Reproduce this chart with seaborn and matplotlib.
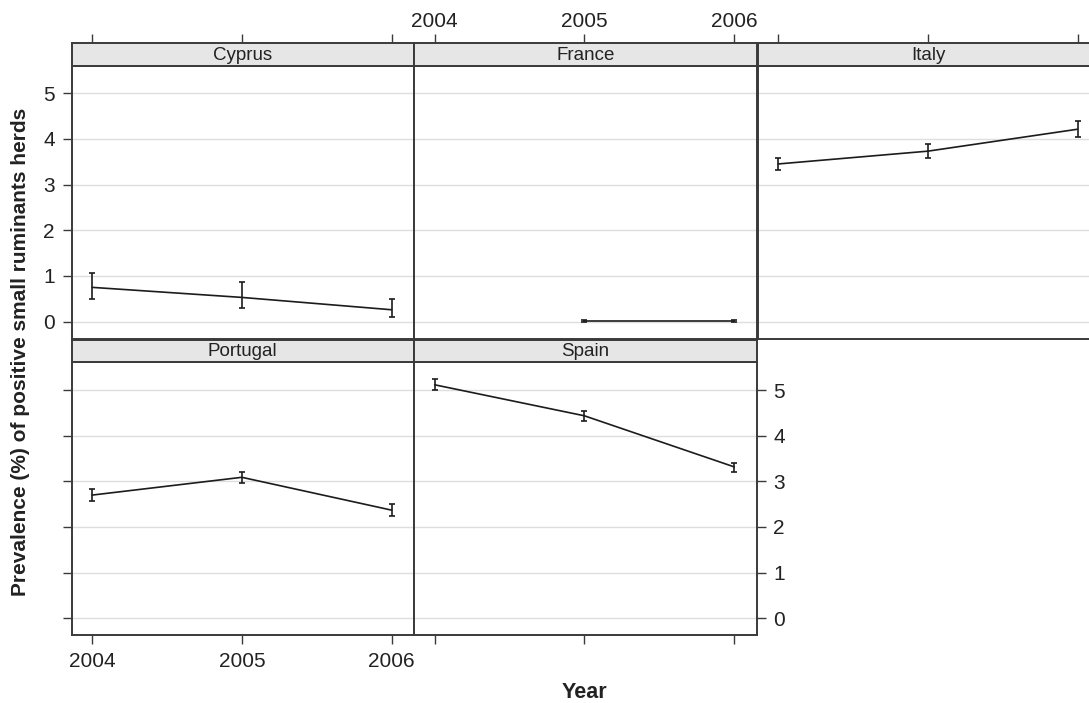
import numpy as np
import pandas as pd
import matplotlib
matplotlib.use("Agg")
import matplotlib.pyplot as plt
import seaborn as sns

# ---- data -------------------------------------------------------------
countries = ["Cyprus", "France", "Italy", "Portugal", "Spain"]
years = [2004, 2005, 2006]

cyprus_prev = [0.75, 0.53, 0.26]
cyprus_low = [0.50, 0.30, 0.10]
cyprus_high = [1.07, 0.86, 0.50]

france_years = [2005, 2006]
france_prev = [0.02, 0.02]
france_low = [0.00, 0.00]
france_high = [0.04, 0.04]

italy_prev = [3.45, 3.73, 4.21]
italy_low = [3.32, 3.59, 4.05]
italy_high = [3.59, 3.88, 4.39]

portugal_prev = [2.70, 3.09, 2.37]
portugal_low = [2.58, 2.97, 2.25]
portugal_high = [2.83, 3.21, 2.50]

spain_prev = [5.12, 4.44, 3.32]
spain_low = [5.01, 4.33, 3.21]
spain_high = [5.25, 4.55, 3.41]

y_ticks = [0, 1, 2, 3, 4, 5]
x_ticks = [2004, 2005, 2006]
x_label = "Year"
y_label = "Prevalence (%) of positive small ruminants herds"

series = {
    "Cyprus": (years, cyprus_prev, cyprus_low, cyprus_high),
    "France": (france_years, france_prev, france_low, france_high),
    "Italy": (years, italy_prev, italy_low, italy_high),
    "Portugal": (years, portugal_prev, portugal_low, portugal_high),
    "Spain": (years, spain_prev, spain_low, spain_high),
}
frames = []
for name in countries:
    yrs, prev, lo, hi = series[name]
    frames.append(pd.DataFrame({"country": name, "year": yrs,
                                "prev": prev, "low": lo, "high": hi}))
df = pd.concat(frames, ignore_index=True)

# ---- style ------------------------------------------------------------
sns.set_style("white")
plt.rcParams["font.family"] = ["Liberation Sans", "DejaVu Sans"]

W, H = 1089, 703
fig = plt.figure(figsize=(W / 100, H / 100), dpi=100)

ink = "#1c1c1c"
edge = "#3a3a3a"
grid = "#dedede"
strip_bg = "#e6e6e6"

col_left = [71.5, 414.0, 757.5]
panel_w = 342.5
row_panel = [(65.7, 339.0), (362.0, 635.0)]     # (top, bottom) in pixels
row_strip = [(43.3, 65.7), (339.6, 362.0)]
xlim = (2003.862, 2006.15)
ylims = [(-0.38, 5.60), (-0.37, 5.62)]

layout = {"Cyprus": (0, 0), "France": (0, 1), "Italy": (0, 2),
          "Portugal": (1, 0), "Spain": (1, 1)}


def fig_rect(left, top, bottom, width):
    return [left / W, 1 - bottom / H, width / W, (bottom - top) / H]


tick_kw = dict(length=6.5, width=1.0, color=edge, pad=5.5,
               labelsize=15, labelcolor="#222222")

for name in countries:
    r, c = layout[name]
    sub = df[df["country"] == name]
    top, bottom = row_panel[r]
    ax = fig.add_axes(fig_rect(col_left[c], top, bottom, panel_w))
    ax.set_facecolor("white")
    for yv in y_ticks:
        ax.axhline(yv, color=grid, lw=1.0, zorder=0)
    sns.lineplot(data=sub, x="year", y="prev", ax=ax, color=ink, lw=1.2,
                 errorbar=None, legend=False)
    ax.errorbar(sub["year"], sub["prev"],
                yerr=[sub["prev"] - sub["low"], sub["high"] - sub["prev"]],
                fmt="none", ecolor=ink, elinewidth=1.2, capsize=2.2,
                capthick=1.2)
    ax.set_xlim(*xlim)
    ax.set_ylim(*ylims[r])
    ax.set_xticks(x_ticks)
    ax.set_yticks(y_ticks)
    ax.set_xlabel("")
    ax.set_ylabel("")
    for sp in ax.spines.values():
        sp.set_color(edge)
        sp.set_linewidth(1.4)

    show_left = name in ("Cyprus", "Portugal")
    ax.tick_params(axis="y", left=show_left, labelleft=(name == "Cyprus"),
                   right=(name == "Spain"), labelright=(name == "Spain"),
                   **tick_kw)
    ax.tick_params(axis="x", top=False, labeltop=False,
                   bottom=(r == 1), labelbottom=(name == "Portugal"),
                   **tick_kw)
    ax.set_xticklabels([str(v) for v in x_ticks])
    ax.set_yticklabels([str(v) for v in y_ticks])

    # strip with the country name
    s_top, s_bottom = row_strip[r]
    sax = fig.add_axes(fig_rect(col_left[c], s_top, s_bottom, panel_w))
    sax.set_facecolor(strip_bg)
    sax.set_xlim(*xlim)
    sax.set_ylim(0, 1)
    sax.set_yticks([])
    sax.set_xticks(x_ticks)
    sax.set_xticklabels([str(v) for v in x_ticks])
    for sp in sax.spines.values():
        sp.set_color(edge)
        sp.set_linewidth(1.4)
    sax.tick_params(axis="x", bottom=False, labelbottom=False,
                    top=(r == 0), labeltop=(name == "France"),
                    **dict(tick_kw, pad=2.5))
    sax.text(0.5, 0.45, name, transform=sax.transAxes, ha="center",
             va="center", fontsize=13.5, color="#222222")

fig.text(21 / W, 1 - 352 / H, y_label, rotation=90, ha="center",
         va="center", fontsize=15, fontweight="bold", color="#222222")
fig.text(584 / W, 1 - 692 / H, x_label, ha="center", va="center",
         fontsize=15.5, fontweight="bold", color="#222222")

fig.savefig("out.png", dpi=100)
